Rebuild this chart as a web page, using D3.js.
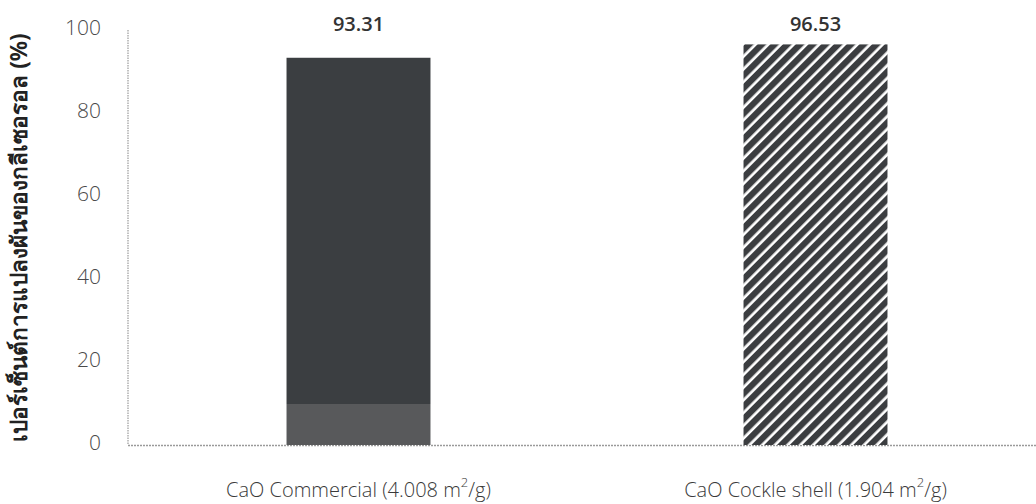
<!DOCTYPE html>
<html>
<head>
<meta charset="utf-8">
<script src="https://cdn.jsdelivr.net/npm/d3@7/dist/d3.min.js"></script>
<style>
  html, body { margin: 0; padding: 0; background: #fff; }
  svg { display: block; }
</style>
</head>
<body>
<svg id="chart" width="1036" height="504"></svg>
<script>
// Glycerol conversion over two CaO catalysts
const categories = ["CaO Commercial", "CaO Cockle shell"];
const surfaceAreas = ["4.008", "1.904"];
const conversion = [93.31, 96.53];
const yTicks = [0, 20, 40, 60, 80, 100];
const yTitle = "เปอร์เซ็นต์การแปลงผันของกลีเซอรอล (%)";

const svg = d3.select("#chart");
const W = 1036, H = 504;
const margin = { left: 130, right: -8, top: 30, bottom: 59 };

const x = d3.scaleBand()
  .domain(categories)
  .range([margin.left, W - margin.right])
  .paddingInner(0).paddingOuter(0);
const barW = x.bandwidth() * 0.315;

const y = d3.scaleLinear().domain([0, 100]).range([H - margin.bottom, margin.top]);

const defs = svg.append("defs");

// Diagonal hatch for the cockle-shell bar
const hatch = defs.append("pattern")
  .attr("id", "hatch")
  .attr("patternUnits", "userSpaceOnUse")
  .attr("width", 9).attr("height", 9)
  .attr("patternTransform", "rotate(45)");
hatch.append("rect").attr("width", 9).attr("height", 9).attr("fill", "#fff");
hatch.append("rect").attr("x", 0).attr("width", 6.3).attr("height", 9).attr("fill", "#3b3d40");

// Solid fill with a slightly lighter print band at the foot
const solid = defs.append("linearGradient")
  .attr("id", "solidFill")
  .attr("gradientUnits", "userSpaceOnUse")
  .attr("x1", 0).attr("x2", 0)
  .attr("y1", y(0)).attr("y2", y(100));
solid.append("stop").attr("offset", 0).attr("stop-color", "#58595b");
solid.append("stop").attr("offset", 0.1).attr("stop-color", "#58595b");
solid.append("stop").attr("offset", 0.1).attr("stop-color", "#3b3e41");
solid.append("stop").attr("offset", 1).attr("stop-color", "#3b3e41");

// Axes lines
svg.append("line")
  .attr("x1", margin.left - 2).attr("x2", margin.left - 2)
  .attr("y1", y(100)).attr("y2", y(0))
  .attr("stroke", "#9a9a9a").attr("stroke-width", 1.2)
  .attr("stroke-dasharray", "1.5,1");
svg.append("line")
  .attr("x1", margin.left - 2).attr("x2", W)
  .attr("y1", y(0) + 0.5).attr("y2", y(0) + 0.5)
  .attr("stroke", "#9a9a9a").attr("stroke-width", 1.4)
  .attr("stroke-dasharray", "2,1");

// Y axis tick labels
const yAxis = d3.axisLeft(y).tickValues(yTicks).tickSize(0).tickPadding(29);
const gy = svg.append("g").attr("transform", `translate(${margin.left},0)`).call(yAxis);
gy.select(".domain").remove();
gy.selectAll("text")
  .attr("font-family", "'Open Sans', 'Noto Sans', sans-serif")
  .attr("font-size", 21)
  .attr("font-weight", 300)
  .attr("fill", "#4a4a4a")
  .attr("dy", "0.2em");

// Bars
const fills = ["url(#solidFill)", "url(#hatch)"];
svg.selectAll("rect.bar")
  .data(conversion)
  .join("rect")
  .attr("class", "bar")
  .attr("x", (d, i) => x(categories[i]) + x.bandwidth() / 2 - barW / 2)
  .attr("width", barW)
  .attr("y", d => y(d))
  .attr("height", d => y(0) - y(d))
  .attr("fill", (d, i) => fills[i]);

// Value labels
svg.selectAll("text.val")
  .data(conversion)
  .join("text")
  .attr("class", "val")
  .attr("x", (d, i) => x(categories[i]) + x.bandwidth() / 2)
  .attr("y", 31)
  .attr("text-anchor", "middle")
  .attr("font-family", "'Open Sans', 'Noto Sans', sans-serif")
  .attr("font-size", 20)
  .attr("font-weight", 600)
  .attr("fill", "#333")
  .text(d => d.toFixed(2));

// Category labels with surface area
const xl = svg.selectAll("text.cat")
  .data(categories)
  .join("text")
  .attr("class", "cat")
  .attr("x", d => x(d) + x.bandwidth() / 2)
  .attr("y", 497)
  .attr("text-anchor", "middle")
  .attr("font-family", "'Open Sans', 'Noto Sans', sans-serif")
  .attr("font-size", 20)
  .attr("font-weight", 300)
  .attr("fill", "#3a3a3a");
xl.append("tspan").text((d, i) => `${d} (${surfaceAreas[i]} m`);
xl.append("tspan").attr("dy", -10).attr("font-size", 13).text("2");
xl.append("tspan").attr("dy", 10).text("/g)");

// Y axis title
svg.append("text")
  .attr("transform", `translate(27,${(y(0) + y(100)) / 2}) rotate(-90)`)
  .attr("text-anchor", "middle")
  .attr("font-family", "'Noto Sans', sans-serif")
  .attr("font-size", 22.5)
  .attr("font-weight", 700)
  .attr("fill", "#222")
  .text(yTitle);
</script>
</body>
</html>
